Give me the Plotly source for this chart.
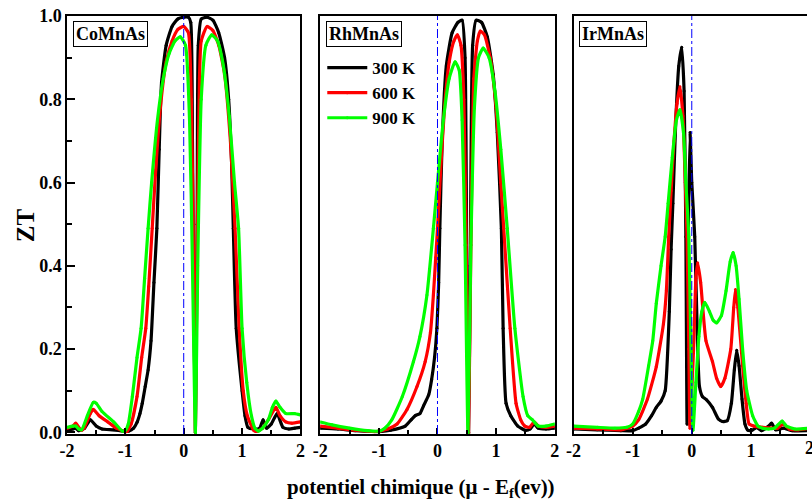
import plotly.graph_objects as go

# ---------------- data ----------------
compounds = ["CoMnAs", "RhMnAs", "IrMnAs"]
temps = ["300 K", "600 K", "900 K"]
colors = ["#000000", "#ff0000", "#00ff00"]
x_ticks = [-2, -1, 0, 1, 2]
y_ticks = [0.0, 0.2, 0.4, 0.6, 0.8, 1.0]

# CoMnAs
co_x_300 = [-2, -1.9, -1.85, -1.8, -1.7, -1.6, -1.5, -1.4, -1.2, -1.0, -0.94, -0.86, -0.8, -0.75, -0.71,
            -0.66, -0.61, -0.56, -0.51, -0.46, -0.42, -0.38, -0.3, -0.2, -0.1, 0.0, 0.08, 0.12, 0.15, 0.17,
            0.2, 0.23, 0.25, 0.3, 0.4, 0.5, 0.6, 0.7, 0.77, 0.82, 0.85, 0.9, 1.0, 1.05, 1.1, 1.2, 1.3,
            1.36, 1.42, 1.5, 1.6, 1.7, 1.8, 1.9, 2.0]
co_y_300 = [0.005, 0.008, 0.01, 0.004, 0.01, 0.03, 0.015, 0.008, 0.006, 0.002, 0.003, 0.01, 0.024, 0.045, 0.07,
            0.11, 0.15, 0.22, 0.36, 0.49, 0.68, 0.84, 0.93, 0.975, 0.993, 0.997, 0.997, 0.985, 0.7, 0.35,
            0.0, 0.5, 0.93, 0.993, 0.997, 0.99, 0.96, 0.9, 0.8, 0.65, 0.49, 0.25, 0.1, 0.04, 0.012, 0.008, 0.01,
            0.03, 0.01, 0.02, 0.045, 0.012, 0.008, 0.01, 0.012]
co_x_600 = [-2, -1.9, -1.85, -1.8, -1.75, -1.7, -1.6, -1.55, -1.45, -1.3, -1.15, -1.0, -0.97, -0.9, -0.8,
            -0.72, -0.65, -0.6, -0.54, -0.48, -0.4, -0.3, -0.2, -0.1, 0.0, 0.08, 0.13, 0.17, 0.2, 0.23,
            0.27, 0.3, 0.4, 0.5, 0.6, 0.7, 0.8, 0.88, 0.95, 1.02, 1.09, 1.2, 1.25, 1.35, 1.45, 1.58, 1.65,
            1.75, 1.85, 2.0]
co_y_600 = [0.01, 0.015, 0.022, 0.012, 0.005, 0.012, 0.045, 0.055, 0.04, 0.025, 0.01, 0.002, 0.002, 0.02, 0.086,
            0.18, 0.25, 0.35, 0.49, 0.63, 0.78, 0.89, 0.94, 0.968, 0.975, 0.96, 0.8, 0.4, 0.0, 0.45,
            0.85, 0.94, 0.975, 0.965, 0.93, 0.86, 0.7, 0.49, 0.25, 0.1, 0.04, 0.005, 0.002, 0.01, 0.03, 0.06, 0.04,
            0.025, 0.022, 0.025]
co_x_900 = [-2, -1.9, -1.85, -1.8, -1.75, -1.65, -1.55, -1.5, -1.4, -1.2, -1.05, -1.0, -0.95, -0.88, -0.8,
            -0.73, -0.67, -0.61, -0.55, -0.45, -0.35, -0.25, -0.15, -0.06, 0.03, 0.1, 0.15, 0.2, 0.24, 0.3,
            0.38, 0.48, 0.58, 0.68, 0.78, 0.87, 0.94, 1.0, 1.08, 1.16, 1.22, 1.28, 1.35, 1.45, 1.52, 1.58,
            1.65, 1.75, 1.9, 2.0]
co_y_900 = [0.012, 0.015, 0.015, 0.008, 0.006, 0.04, 0.072, 0.07, 0.05, 0.025, 0.003, 0.005, 0.02, 0.086, 0.18,
            0.25, 0.37, 0.49, 0.6, 0.75, 0.85, 0.91, 0.94, 0.95, 0.93, 0.75, 0.4, 0.0, 0.4, 0.8,
            0.93, 0.955, 0.94, 0.88, 0.76, 0.6, 0.49, 0.25, 0.12, 0.04, 0.01, 0.003, 0.01, 0.03, 0.06, 0.075,
            0.06, 0.045, 0.045, 0.042]

# RhMnAs
rh_x_300 = [-2, -1.7, -1.4, -1.1, -0.95, -0.8, -0.55, -0.45, -0.38, -0.3, -0.24, -0.15, -0.1, -0.05, -0.01,
            0.02, 0.04, 0.08, 0.15, 0.25, 0.35, 0.42, 0.47, 0.5, 0.53, 0.56, 0.6, 0.66, 0.75, 0.85, 0.95,
            1.02, 1.09, 1.12, 1.17, 1.25, 1.37, 1.5, 1.58, 1.65, 1.72, 1.85, 2.0]
rh_y_300 = [0.01, 0.008, 0.004, 0.002, 0.002, 0.005, 0.015, 0.03, 0.04, 0.045, 0.063, 0.09, 0.127, 0.18, 0.25,
            0.36, 0.49, 0.7, 0.88, 0.96, 0.985, 0.99, 0.9, 0.4, 0.0, 0.4, 0.93, 0.99, 0.985, 0.95, 0.86,
            0.72, 0.49, 0.25, 0.07, 0.04, 0.015, 0.005, 0.008, 0.02, 0.01, 0.008, 0.01]
rh_x_600 = [-2, -1.7, -1.4, -1.05, -0.85, -0.69, -0.52, -0.35, -0.21, -0.12, -0.07, -0.03, 0.0, 0.05, 0.12,
            0.2, 0.28, 0.34, 0.4, 0.45, 0.49, 0.53, 0.57, 0.62, 0.68, 0.73, 0.8, 0.9, 1.0, 1.08, 1.13,
            1.24, 1.34, 1.42, 1.49, 1.57, 1.65, 1.72, 1.85, 2.0]
rh_y_600 = [0.015, 0.01, 0.005, 0.002, 0.008, 0.02, 0.055, 0.11, 0.17, 0.24, 0.33, 0.42, 0.49, 0.62, 0.78,
            0.89, 0.94, 0.955, 0.93, 0.8, 0.45, 0.0, 0.45, 0.85, 0.94, 0.964, 0.955, 0.9, 0.78, 0.6, 0.49,
            0.25, 0.07, 0.03, 0.015, 0.012, 0.025, 0.015, 0.012, 0.015]
rh_x_900 = [-2, -1.8, -1.5, -1.2, -1.0, -0.9, -0.78, -0.6, -0.41, -0.3, -0.18, -0.07, 0.0, 0.1, 0.2,
            0.3, 0.37, 0.42, 0.47, 0.52, 0.57, 0.63, 0.7, 0.78, 0.88, 0.98, 1.08, 1.19, 1.32, 1.46, 1.54,
            1.62, 1.72, 1.85, 2.0]
rh_y_900 = [0.025, 0.018, 0.01, 0.004, 0.003, 0.01, 0.03, 0.086, 0.17, 0.23, 0.33, 0.49, 0.6, 0.75, 0.85,
            0.89, 0.87, 0.75, 0.45, 0.0, 0.45, 0.78, 0.9, 0.923, 0.9, 0.82, 0.68, 0.49, 0.25, 0.086, 0.04,
            0.03, 0.015, 0.015, 0.02]

# IrMnAs
ir_x_300 = [-2, -1.6, -1.2, -1.0, -0.9, -0.78, -0.68, -0.6, -0.52, -0.45, -0.38, -0.35, -0.32, -0.27, -0.22,
            -0.17, -0.13, -0.1, -0.08, -0.06, -0.03, 0.0, 0.05, 0.1, 0.13, 0.18, 0.25, 0.35, 0.45, 0.52,
            0.6, 0.67, 0.72, 0.76, 0.8, 0.85, 0.9, 0.95, 1.02, 1.1, 1.18, 1.3, 1.35, 1.42, 1.55, 1.7, 2.0]
ir_y_300 = [0.008, 0.006, 0.004, 0.004, 0.01, 0.02, 0.04, 0.06, 0.075, 0.1, 0.29, 0.44, 0.55, 0.75, 0.88,
            0.925, 0.82, 0.47, 0.02, 0.47, 0.72, 0.6, 0.47, 0.2, 0.11, 0.086, 0.078, 0.06, 0.032, 0.026,
            0.028, 0.07, 0.15, 0.197, 0.16, 0.08, 0.02, 0.005, 0.005, 0.012, 0.004, 0.015, 0.022, 0.006, 0.01,
            0.004, 0.004]
ir_x_600 = [-2, -1.6, -1.2, -1.0, -0.9, -0.75, -0.6, -0.48, -0.43, -0.39, -0.35, -0.3, -0.25, -0.2, -0.15,
            -0.11, -0.08, -0.05, -0.03, 0.03, 0.07, 0.1, 0.15, 0.24, 0.35, 0.42, 0.49, 0.56, 0.66, 0.71,
            0.74, 0.78, 0.86, 0.92, 0.97, 1.05, 1.2, 1.35, 1.45, 1.55, 1.65, 1.8, 2.0]
ir_y_600 = [0.01, 0.008, 0.006, 0.015, 0.03, 0.08, 0.158, 0.26, 0.34, 0.47, 0.58, 0.7, 0.79, 0.83, 0.76,
            0.6, 0.47, 0.2, 0.01, 0.2, 0.37, 0.407, 0.36, 0.22, 0.17, 0.13, 0.11, 0.13, 0.2, 0.3,
            0.343, 0.3, 0.16, 0.07, 0.02, 0.015, 0.012, 0.01, 0.01, 0.02, 0.008, 0.006, 0.01]
ir_x_900 = [-2, -1.6, -1.3, -1.1, -1.0, -0.9, -0.83, -0.73, -0.66, -0.6, -0.52, -0.45, -0.4, -0.33, -0.26,
            -0.2, -0.14, -0.1, -0.05, -0.02, 0.02, 0.07, 0.12, 0.17, 0.22, 0.3, 0.36, 0.42, 0.5, 0.58,
            0.65, 0.7, 0.75, 0.8, 0.86, 0.93, 1.03, 1.12, 1.2, 1.3, 1.4, 1.53, 1.6, 1.75, 2.0]
ir_y_900 = [0.015, 0.012, 0.01, 0.012, 0.02, 0.05, 0.08, 0.16, 0.22, 0.31, 0.4, 0.47, 0.55, 0.66, 0.75,
            0.775, 0.72, 0.6, 0.47, 0.25, 0.005, 0.12, 0.23, 0.29, 0.312, 0.29, 0.27, 0.263, 0.28, 0.34,
            0.41, 0.432, 0.4, 0.32, 0.2, 0.1, 0.04, 0.015, 0.01, 0.008, 0.01, 0.027, 0.015, 0.008, 0.01]

series = [
    [(co_x_300, co_y_300), (co_x_600, co_y_600), (co_x_900, co_y_900)],
    [(rh_x_300, rh_y_300), (rh_x_600, rh_y_600), (rh_x_900, rh_y_900)],
    [(ir_x_300, ir_y_300), (ir_x_600, ir_y_600), (ir_x_900, ir_y_900)],
]

# ---------------- figure ----------------
FONT = "Liberation Serif"
W, H = 812, 499
ML, MR, MT, MB = 67, 0, 16, 65
plot_w = W - ML - MR
px = lambda p: (p - ML) / plot_w
domains = [[px(67), px(302)], [px(322), px(558)], [px(577), 1.0]]
# third panel is cut by the right edge of the image
x3_max = 2 - 4 * (815 - 812) / (815 - 577)
ranges = [[-2, 2], [-2, 2], [-2, x3_max]]

fig = go.Figure()
for i in range(3):
    for j in range(3):
        xs, ys = series[i][j]
        fig.add_trace(go.Scatter(
            x=xs, y=ys, mode="lines+markers", name=temps[j],
            line=dict(color=colors[j], width=3.2, shape="spline", smoothing=0.5),
            marker=dict(color=colors[j], size=3),
            xaxis="x" if i == 0 else f"x{i+1}", yaxis="y" if i == 0 else f"y{i+1}",
            showlegend=(i == 1),
        ))

layout = dict(
    width=W, height=H, margin=dict(l=ML, r=MR, t=MT, b=MB),
    paper_bgcolor="white", plot_bgcolor="white",
    font=dict(family=FONT, color="black", size=18, weight="bold"),
    legend=dict(x=px(324), y=1 - (50 - MT) / (434 - MT), xanchor="left", yanchor="top",
                bgcolor="rgba(0,0,0,0)", font=dict(size=17, family=FONT, weight="bold"),
                tracegroupgap=0, itemwidth=40),
    showlegend=True,
)
for i in range(3):
    xa = "xaxis" if i == 0 else f"xaxis{i+1}"
    ya = "yaxis" if i == 0 else f"yaxis{i+1}"
    yname = "y" if i == 0 else f"y{i+1}"
    xname = "x" if i == 0 else f"x{i+1}"
    layout[xa] = dict(
        domain=domains[i], range=ranges[i], anchor=yname,
        tickvals=x_ticks, ticktext=[str(v) for v in x_ticks],
        ticks="inside", ticklen=6, tickwidth=1.5, tickcolor="black",
        minor=dict(dtick=0.5, ticks="inside", ticklen=4, tickwidth=1.5, tickcolor="black"),
        showline=True, linecolor="black", linewidth=1.5, mirror=True,
        showgrid=False, zeroline=False,
        tickfont=dict(size=18, family=FONT, weight="bold"),
    )
    layout[ya] = dict(
        domain=[0, 1], range=[-0.004, 1.0], anchor=xname,
        showline=True, linecolor="black", linewidth=1.5, mirror=(i < 2),
        showgrid=False, zeroline=False,
    )
    if i == 0:
        layout[ya].update(
            tickvals=y_ticks, ticktext=[f"{v:.1f}" for v in y_ticks],
            ticks="inside", ticklen=8, tickwidth=1.5, tickcolor="black",
            minor=dict(dtick=0.1, ticks="inside", ticklen=5, tickwidth=1.5, tickcolor="black"),
            tickfont=dict(size=18, family=FONT, weight="bold"),
        )
    else:
        layout[ya].update(showticklabels=False, ticks="")
fig.update_layout(**layout)

# Fermi level reference lines and compound labels
for i in range(3):
    xname = "x" if i == 0 else f"x{i+1}"
    yname = "y" if i == 0 else f"y{i+1}"
    fig.add_shape(type="line", xref=xname, yref=f"{yname} domain", x0=0, x1=0, y0=0, y1=1,
                  line=dict(color="blue", width=1, dash="dashdot"), layer="above")
    fig.add_annotation(text=compounds[i], xref=f"{xname} domain", yref=f"{yname} domain",
                       x=0.025, y=0.987, xanchor="left", yanchor="top", showarrow=False,
                       bordercolor="black", borderwidth=1, borderpad=2,
                       font=dict(size=18, family=FONT, weight="bold"))

# truncated "2" tick label of the cut-off third panel
fig.add_annotation(text="2", xref="paper", yref="paper", x=px(815), y=0, yshift=-14,
                   xanchor="center", yanchor="middle", showarrow=False,
                   font=dict(size=18, family=FONT, weight="bold"))

fig.add_annotation(text="potentiel chimique (μ - E<sub>f</sub>(ev))", xref="paper", yref="paper",
                   x=px(423), y=0, yshift=-54, xanchor="center", yanchor="middle", showarrow=False,
                   font=dict(size=21, family=FONT, weight="bold"))
fig.add_annotation(text="ZT", xref="paper", yref="paper", x=px(25), y=0.5, textangle=-90,
                   xanchor="center", yanchor="middle", showarrow=False,
                   font=dict(size=25, family=FONT, weight="bold"))

fig.write_html("out.html")
